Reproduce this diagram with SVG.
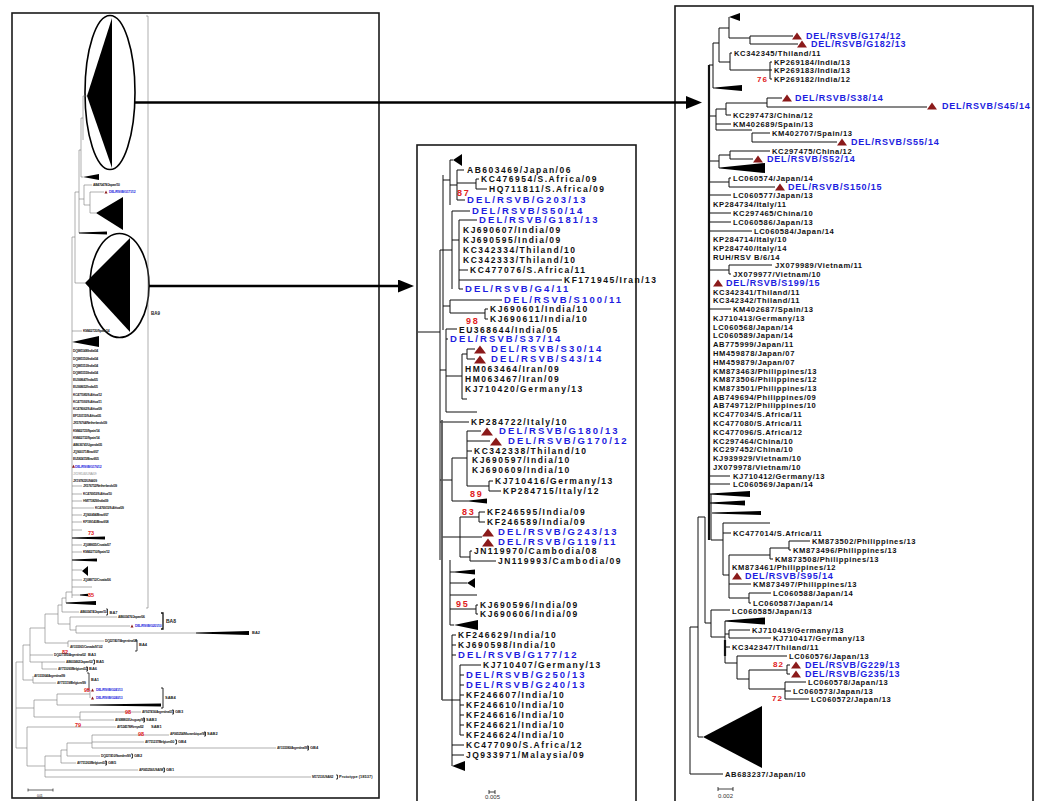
<svg xmlns="http://www.w3.org/2000/svg" width="1040" height="801" viewBox="0 0 1040 801">
<defs>
<style>
.pl{fill:none;stroke:#1a1a1a;stroke-width:1.6}
.lt{fill:none;stroke:#7a7a7a;stroke-width:0.6}
.bk{fill:none;stroke:#111;stroke-width:1}
.th{fill:none;stroke:#111;stroke-width:2.2}
.gy{fill:none;stroke:#555;stroke-width:1.8}
.ar{fill:none;stroke:#000;stroke-width:2.6}
.el{fill:none;stroke:#000;stroke-width:1.6}
.w{fill:#000}
.rt{fill:#8b1a1a}
text{font-family:"Liberation Sans",Arial,Helvetica,sans-serif}
.m{font-size:8.5px;font-weight:bold;letter-spacing:1.5px;fill:#111}
.mb{font-size:9.5px;font-weight:bold;letter-spacing:2.1px;fill:#1d1de0}
.mn{font-size:9px;font-weight:bold;letter-spacing:1.8px;fill:#e02020}
.r{font-size:7.6px;font-weight:bold;letter-spacing:0.6px;fill:#111}
.rb{font-size:9px;font-weight:bold;letter-spacing:0.8px;fill:#1d1de0}
.rn{font-size:8px;font-weight:bold;letter-spacing:1px;fill:#e02020}
.s{font-size:3.4px;font-weight:bold;letter-spacing:-0.3px;fill:#222}
.sb{font-size:3.4px;font-weight:bold;letter-spacing:-0.3px;fill:#2a2ae0}
.sg{font-size:3.4px;letter-spacing:-0.3px;fill:#999}
.sr{font-size:5.5px;font-weight:bold;fill:#e02020}
.cl{font-size:4px;font-weight:bold;fill:#222}
.sc{font-size:6px;fill:#333}
</style>
<polygon id="tm" points="0,0 6,-8 12,0" class="rt"/>
<polygon id="tr" points="0,0 5,-7 10,0" class="rt"/>
<polygon id="ts" points="0,0 1.5,-3 3,0" class="rt"/>
<marker id="ah" markerUnits="userSpaceOnUse" markerWidth="16" markerHeight="13" refX="2" refY="6.5" orient="auto" viewBox="0 0 16 13">
<path d="M0,0 L16,6.5 L0,13 z" fill="#000"/>
</marker>
</defs>
<rect width="1040" height="801" fill="#fff"/>

<g id="left-panel">
<rect x="12" y="13" width="367" height="785" class="pl"/>
<polygon points="87,96 112,18 112,168" class="w"/>
<ellipse cx="110" cy="92.5" rx="25" ry="77" class="el"/>
<polygon points="85,283 130,238 130,332" class="w"/>
<ellipse cx="119.5" cy="285.5" rx="29.5" ry="52" class="el"/>
<path class="lt" d="M146,16H148 M148,16V608 M146,608H148"/>
<text x="151" y="314.5" class="cl" style="font-size:4.5px">BA9</text>
<path class="lt" d="M83,96H87 M83,96V140 M81,118H83 M81,118V177 M81,177H83 M79,150H81 M79,150V233 M79,199H84 M84,185V205 M84,185H92 M84,205H90 M90,192V213 M90,192H104 M90,213H96 M75,192H79 M75,192V283 M75,283H85 M72,237H75 M72,237V598 M72,331H82 M72,486H82 M72,494H82 M72,501H82 M72,508H94 M72,515H82 M72,522H82 M72,530H82 M72,545H82 M72,552H82 M72,570H82 M72,580H82 M72,587H92 M72,595H80 M66,592H72 M66,592V603 M62,598H66 M62,598V612 M62,612H79 M58,605H62 M58,605V624 M58,624H70 M70,617V630 M70,617H117 M70,630H76 M76,626V633 M76,626H130 M76,633H196 M45,614H58 M45,614V643 M45,643H68 M68,641V647 M68,641H104 M30,628H45 M30,628V662 M30,655H53 M30,662H42 M42,662V669 M42,662H65 M42,669H57 M23,645H30 M23,645V680 M23,680H33 M33,676V683 M33,683H56 M16,662H23 M16,662V748 M16,708H34 M34,700V717 M34,700H57 M57,694V705 M57,694H90 M90,690V698 M57,705H90 M34,717H80 M80,712V720 M80,712H141 M80,720H114 M16,748H27 M27,727V766 M27,727H116 M27,766H45 M45,756V777 M45,756H61 M45,770H138 M45,777H311 M61,750V763 M61,750H67 M61,763H76 M67,743V756 M67,743H92 M67,756H100 M92,735V748 M92,735H169 M92,742H144 M92,748H276"/>
<polygon points="79,232.6 107,231.6 107,234.4 79,233.4" class="w"/>
<polygon points="83,177 99,174 99,180" class="w"/>
<polygon points="96,213 123,197 123,230" class="w"/>
<polygon points="72,342 99,336 99,347" class="w"/>
<polygon points="72,537.6 105,536.6 105,539.4 72,538.4" class="w"/>
<polygon points="72,559.6 97,558.6 97,561.4 72,560.4" class="w"/>
<polygon points="82,571 88,566 88,576" class="w"/>
<polygon points="80,594.6 88,593.8 88,596.2 80,595.4" class="w"/>
<polygon points="66,602.6 96,601 96,605 66,603.4" class="w"/>
<polygon points="196,632.5 249,631 249,635 196,633.5" class="w"/>
<polygon points="90,704.6 161,703.6 161,706.4 90,705.4" class="w"/>
<path class="lt" style="stroke:#222;stroke-width:0.7" d="M28,790H53 M28,788.5V791.5 M53,788.5V791.5"/>
<text x="37" y="797" class="s" style="font-weight:normal">0.01</text>
<text x="93" y="186.3" class="s">AB470478/Japan/10</text>
<use href="#ts" x="104.5" y="193.5"/>
<text x="109" y="193.3" class="sb">DEL/RSVB/G171/12</text>
<text x="83" y="332.3" class="s">KM402720/Spain/14</text>
<g>
<text x="73" y="352.3" class="s">DQ985148/India/04</text>
<text x="73" y="359.5" class="s">DQ985150/India/04</text>
<text x="73" y="366.7" class="s">DQ985153/India/04</text>
<text x="73" y="373.9" class="s">DQ985155/India/04</text>
<text x="73" y="381.1" class="s">EU368647/India/05</text>
<text x="73" y="388.3" class="s">EU368652/India/05</text>
<text x="73" y="395.5" class="s">KC477085/S.Africa/12</text>
<text x="73" y="402.7" class="s">KC477093/S.Africa/11</text>
<text x="73" y="409.9" class="s">KC478062/S.Africa/09</text>
<text x="73" y="417.1" class="s">EF120115/S.Africa/05</text>
<text x="73" y="424.3" class="s">JX576764/Netherlands/09</text>
<text x="73" y="431.5" class="s">KM402723/Spain/14</text>
<text x="73" y="438.7" class="s">KM402732/Spain/14</text>
<text x="73" y="445.9" class="s">AB636741/Uganda/05</text>
<text x="73" y="453.1" class="s">JQ900371/Brazil/07</text>
<text x="73" y="460.3" class="s">EU582415/Brazil/05</text>
<use href="#ts" x="72" y="467.8"/>
<text x="75" y="467.5" class="sb">DEL/RSVB/G176/12</text>
<text x="73" y="474.7" class="sg">JX198146/USA/09</text>
<text x="73" y="481.9" class="s">JX197822/USA/09</text>
<text x="83" y="487.3" class="s">JX576752/Netherlands/09</text>
<text x="83" y="495.3" class="s">KC476953/S.Africa/10</text>
<text x="83" y="502.3" class="s">HM773829/India/09</text>
<text x="95" y="509.3" class="s">KC476915/S.Africa/09</text>
<text x="83" y="516.3" class="s">JQ900494/Brazil/07</text>
<text x="83" y="523.3" class="s">KF199143/Brazil/08</text>
<text x="88" y="535" class="sr">73</text>
<text x="83" y="546.3" class="s">JQ088655/Croatia/07</text>
<text x="83" y="553.3" class="s">KM402710/Spain/12</text>
<text x="83" y="581.3" class="s">JQ088712/Croatia/06</text>
<text x="88" y="597" class="sr">85</text>
</g>
<g>
<text x="80" y="613.3" class="s">AB603474/Japan/10</text>
<path class="bk" style="stroke-width:0.8" d="M106,609H107.5V615H106"/>
<text x="109.5" y="613.5" class="cl">BA7</text>
<text x="118" y="618.3" class="s">AB603476/Japan/06</text>
<use href="#ts" x="130.5" y="627.5"/>
<text x="135" y="627.3" class="sb">DEL/RSVB/G201/10</text>
<path class="bk" style="stroke-width:1.3" d="M161,613H163V629H161"/>
<text x="166" y="622.8" class="cl" style="font-size:5px">BA8</text>
<text x="252" y="634.4" class="cl">BA2</text>
<text x="105" y="642.3" class="s">DQ227407/Argentina/04</text>
<text x="70" y="648.3" class="s">AY333361/Canada/97-02</text>
<path class="bk" style="stroke-width:0.8" d="M135,640H137V651H135"/>
<text x="139" y="646.4" class="cl">BA4</text>
<text x="62" y="654" class="sr">82</text>
<text x="54" y="656.3" class="s">DQ227395/Argentina/02</text>
<text x="88" y="656.4" class="cl">BA3</text>
<text x="66" y="663.3" class="s">AB603462/Japan/02</text>
<path class="bk" style="stroke-width:0.8" d="M93,660H94.5V664H93"/>
<text x="96" y="663.4" class="cl">BA5</text>
<text x="58" y="670.3" class="s">AY751093/Belgium/02</text>
<path class="bk" style="stroke-width:0.8" d="M86,667H87.5V671H86"/>
<text x="89" y="670.4" class="cl">BA6</text>
<text x="34" y="677.3" class="s">AY333364/Argentina/99</text>
<text x="57" y="684.3" class="s">AY751119/Belgium/99</text>
<path class="bk" style="stroke-width:0.8" d="M87,673H89V690H87"/>
<text x="91" y="681.4" class="cl">BA1</text>
<text x="84" y="692" class="sr">95</text>
<use href="#ts" x="91" y="691.5"/>
<text x="96" y="691.3" class="sb">DEL/RSVB/G241/13</text>
<use href="#ts" x="91" y="699.5"/>
<text x="96" y="699.3" class="sb">DEL/RSVB/G240/13</text>
<path class="bk" style="stroke-width:0.9" d="M161,688H163V708H161"/>
<text x="165" y="699.4" class="cl">SAB4</text>
<text x="125" y="714" class="sr">98</text>
<text x="142" y="713.3" class="s">AY927416/Argentina/01</text>
<path class="bk" style="stroke-width:0.8" d="M172,710H173.5V714H172"/>
<text x="175" y="713.4" class="cl">GB3</text>
<text x="115" y="721.3" class="s">AY488803/Uruguay/99</text>
<path class="bk" style="stroke-width:0.8" d="M143,718H144.5V722H143"/>
<text x="146" y="721.4" class="cl">SAB3</text>
<text x="75" y="727" class="sr">79</text>
<text x="117" y="728.3" class="s">AY524578/Kenya/02</text>
<text x="151" y="728.4" class="cl">SAB1</text>
<text x="138" y="736" class="sr">98</text>
<text x="170" y="735.3" class="s">AF065254/Mozambique/99</text>
<path class="bk" style="stroke-width:0.8" d="M204,732H205.5V736H204"/>
<text x="207" y="735.4" class="cl">SAB2</text>
<text x="145" y="743.3" class="s">AY751237/Belgium/00</text>
<path class="bk" style="stroke-width:0.8" d="M175,740H176.5V744H175"/>
<text x="178" y="743.4" class="cl">GB4</text>
<text x="277" y="749.3" class="s">AY333380/Argentina/99</text>
<path class="bk" style="stroke-width:0.8" d="M307,746H308.5V750H307"/>
<text x="310" y="749.4" class="cl">GB4</text>
<text x="101" y="757.3" class="s">DQ227410/Sweden/99</text>
<path class="bk" style="stroke-width:0.8" d="M131,754H132.5V758H131"/>
<text x="134" y="757.4" class="cl">GB2</text>
<text x="77" y="764.3" class="s">AY751263/Belgium/03</text>
<path class="bk" style="stroke-width:0.8" d="M105,761H106.5V765H105"/>
<text x="108" y="764.4" class="cl">GB5</text>
<text x="139" y="771.3" class="s">AF065256/USA/98</text>
<path class="bk" style="stroke-width:0.8" d="M163,768H164.5V772H163"/>
<text x="166" y="771.4" class="cl">GB1</text>
<text x="312" y="778.3" class="s">M17213/USA/62</text>
<path class="bk" style="stroke-width:0.8" d="M336,775H337.5V779H336"/>
<text x="339" y="778.4" class="cl">Prototype (18537)</text>
</g>
</g>

<g id="middle-panel">
<rect x="417" y="145" width="219" height="662" class="pl"/>
<path class="bk" d="M418,332H440 M440,250V560 M443,175V330 M440,250H443 M443,180H450 M450,160V205 M450,160H453 M450,185H457 M457,170V200 M457,170H464 M457,183H476 M476,179V189 M476,179H479 M476,189H487 M457,200H465 M443,250H452 M452,211V289 M452,211H470 M452,240H459 M459,220V289 M459,220H477 M459,270H468 M459,280H562 M459,289H463 M443,306H450 M450,300V313 M450,300H502 M450,313H485 M485,309V319 M485,309H488 M485,319H488 M440,370H446 M446,329V412 M446,329H457 M446,339H448 M446,376H462 M462,354V399 M462,354H467 M467,349V359 M467,349H475 M467,359H475 M462,399H467 M446,412H477 M440,422H469 M440,480H452 M452,458V501 M452,458H467 M467,431V486 M467,431H481 M467,441H490 M467,451H472 M467,486H489 M489,481V491 M489,481H493 M489,491H501 M452,501H469 M442,537H460 M460,517V557 M460,517H479 M479,512V522 M479,512H485 M479,522H485 M460,537H482 M460,557H470 M470,551V561 M470,551H472 M470,561H496 M450,560V625 M450,572H455 M450,583H467 M450,595H477 M450,609H476 M476,605V614 M476,605H478 M476,614H478 M450,625H454 M442,700H452 M452,635V766 M452,635H456 M452,645H456 M452,655H456 M452,700H460 M460,665V735 M460,665H481 M460,675H464 M460,685H464 M460,695H464 M460,705H464 M460,715H464 M460,725H464 M460,735H464 M452,745H464 M452,755H464"/>
<path class="gy" d="M442,420V700"/>
<polygon points="453,160 462,154 462,166" class="w"/>
<polygon points="469,500.5 487,498.5 487,503.5 469,501.5" class="w"/>
<polygon points="455,571.5 475,569.5 475,574.5 455,572.5" class="w"/>
<polygon points="467,583 475,578 475,588" class="w"/>
<polygon points="454,625 478,620 478,630" class="w"/>
<polygon points="452,766 465,761 465,771" class="w"/>
<path class="bk" style="stroke-width:0.8" d="M489,792H495 M489,790V794 M495,790V794"/>
<text x="485" y="799" class="sc">0.005</text>
<text x="467" y="173" class="m">AB603469/Japan/06</text>
<text x="481" y="182" class="m">KC476954/S.Africa/09</text>
<text x="489" y="192" class="m">HQ711811/S.Africa/09</text>
<text x="463" y="233" class="m">KJ690607/India/09</text>
<text x="463" y="243" class="m">KJ690595/India/09</text>
<text x="463" y="253" class="m">KC342334/Thiland/10</text>
<text x="463" y="263" class="m">KC342333/Thiland/10</text>
<text x="470" y="273" class="m">KC477076/S.Africa/11</text>
<text x="564" y="283" class="m">KF171945/Iran/13</text>
<text x="490" y="312" class="m">KJ690601/India/10</text>
<text x="490" y="322" class="m">KJ690611/India/10</text>
<text x="459" y="332.5" class="m">EU368644/India/05</text>
<text x="465" y="372" class="m">HM063464/Iran/09</text>
<text x="465" y="382" class="m">HM063467/Iran/09</text>
<text x="465" y="392" class="m">KJ710420/Germany/13</text>
<text x="471" y="425" class="m">KP284722/Italy/10</text>
<text x="474" y="454" class="m">KC342338/Thiland/10</text>
<text x="472" y="463" class="m">KJ690597/India/10</text>
<text x="472" y="473" class="m">KJ690609/India/10</text>
<text x="495" y="484" class="m">KJ710416/Germany/13</text>
<text x="503" y="494" class="m">KP284715/Italy/12</text>
<text x="487" y="515" class="m">KF246595/India/09</text>
<text x="487" y="525" class="m">KF246589/India/09</text>
<text x="474" y="554" class="m">JN119970/Cambodia/08</text>
<text x="498" y="564" class="m">JN119993/Cambodia/09</text>
<text x="480" y="608" class="m">KJ690596/India/09</text>
<text x="480" y="617" class="m">KJ690606/India/09</text>
<text x="458" y="638" class="m">KF246629/India/10</text>
<text x="458" y="648" class="m">KJ690598/India/10</text>
<text x="483" y="668" class="m">KJ710407/Germany/13</text>
<text x="466" y="698" class="m">KF246607/India/10</text>
<text x="466" y="708" class="m">KF246610/India/10</text>
<text x="466" y="718" class="m">KF246616/India/10</text>
<text x="466" y="728" class="m">KF246621/India/10</text>
<text x="466" y="738" class="m">KF246624/India/10</text>
<text x="466" y="748" class="m">KC477090/S.Africa/12</text>
<text x="466" y="758" class="m">JQ933971/Malaysia/09</text>
<text x="467" y="203.4" class="mb">DEL/RSVB/G203/13</text>
<text x="472" y="214.4" class="mb">DEL/RSVB/S50/14</text>
<text x="479" y="223.4" class="mb">DEL/RSVB/G181/13</text>
<text x="465" y="292.4" class="mb">DEL/RSVB/G4/11</text>
<text x="504" y="303.4" class="mb">DEL/RSVB/S100/11</text>
<text x="450" y="342.4" class="mb">DEL/RSVB/S37/14</text>
<use href="#tm" x="474" y="353.5"/>
<text x="491" y="352.4" class="mb">DEL/RSVB/S30/14</text>
<use href="#tm" x="474" y="363.5"/>
<text x="491" y="362.4" class="mb">DEL/RSVB/S43/14</text>
<use href="#tm" x="481" y="435.5"/>
<text x="499" y="434.4" class="mb">DEL/RSVB/G180/13</text>
<use href="#tm" x="490" y="445.5"/>
<text x="508" y="444.4" class="mb">DEL/RSVB/G170/12</text>
<use href="#tm" x="482" y="536.5"/>
<text x="498" y="535.4" class="mb">DEL/RSVB/G243/13</text>
<use href="#tm" x="482" y="546.5"/>
<text x="498" y="545.4" class="mb">DEL/RSVB/G119/11</text>
<text x="458" y="658.4" class="mb">DEL/RSVB/G177/12</text>
<text x="466" y="678.4" class="mb">DEL/RSVB/G250/13</text>
<text x="466" y="688.4" class="mb">DEL/RSVB/G240/13</text>
<text x="457" y="196" class="mn">87</text>
<text x="466" y="323.5" class="mn">98</text>
<text x="470" y="497" class="mn">89</text>
<text x="462" y="515" class="mn">83</text>
<text x="456" y="607" class="mn">95</text>
</g>

<g id="right-panel">
<rect x="675" y="6" width="358" height="801" class="pl"/>
<path class="bk" d="M690,627V774 M690,774H723 M690,627H698 M698,517V737 M698,737H703 M698,517H705 M705,517V623 M705,623H711 M711,610V637 M711,610H730 M711,637H725 M725,621V663 M725,634H729 M729,630V638 M729,630H750 M729,638H771 M725,647H730 M725,663H737 M737,656V679 M737,656H787 M737,679H749 M749,670V689 M749,670H787 M787,665V674 M787,665H790 M787,674H790 M749,689H785 M785,682V699 M785,682H806 M785,691H791 M785,699H809 M709,65H713 M713,43V88 M713,43H719 M719,28V62 M719,28H729 M729,17V38 M729,38H750 M750,36V44 M750,36H793 M750,44H798 M719,62H730 M730,53V70 M730,53H732 M730,70H770 M770,62V79 M770,62H772 M770,70H772 M770,79H772 M713,88H715 M709,116H716 M716,109V130 M716,109H726 M726,103V115 M726,103H767 M767,98V107 M767,98H782 M767,107H927 M726,115H731 M716,124H731 M716,130H752 M752,133V142 M752,133H770 M752,142H837 M709,161H719 M719,155V168 M719,155H730 M730,151V159 M730,151H770 M730,159H753 M719,168H720 M709,182H729 M729,178V187 M729,178H731 M729,187H775 M709,195H731 M709,213H731 M709,222H731 M709,231H752 M709,270H729 M729,265V274 M729,265H772 M729,274H731 M709,309H731 M709,476H730 M709,484H730 M711,494V540 M711,540H723 M723,523V575 M723,523H770 M723,533H731 M723,575H729 M729,555V598 M729,555H770 M770,548V559 M770,548H789 M789,541V550 M789,541H810 M789,550H791 M770,559H773 M729,584H751 M729,598H749 M749,593V603 M749,593H771 M749,603H751"/>
<path class="th" d="M709,65V540 M725,640V656"/>
<polygon points="729,17 740,13 740,21" class="w"/>
<polygon points="715,87.5 742,85 742,91 715,88.5" class="w"/>
<polygon points="720,167.5 765,163 765,173 720,168.5" class="w"/>
<polygon points="710,493.5 750,491 750,497 710,494.5" class="w"/>
<polygon points="710,502.5 745,500.5 745,505.5 710,503.5" class="w"/>
<polygon points="712,512.5 761,511 761,515 712,513.5" class="w"/>
<polygon points="725,620.5 765,617.5 765,624.5 725,621.5" class="w"/>
<polygon points="703,737 762,706 762,768" class="w"/>
<path class="bk" style="stroke-width:0.8" d="M718,789H733 M718,787V791 M733,787V791"/>
<text x="718" y="798" class="sc">0.002</text>
<text x="734" y="55.7" class="r">KC342345/Thiland/11</text>
<text x="774" y="64.7" class="r">KP269184/India/13</text>
<text x="774" y="72.7" class="r">KP269183/India/13</text>
<text x="774" y="81.7" class="r">KP269182/India/12</text>
<text x="733" y="117.7" class="r">KC297473/China/12</text>
<text x="733" y="126.7" class="r">KM402689/Spain/13</text>
<text x="772" y="135.7" class="r">KM402707/Spain/13</text>
<text x="772" y="153.7" class="r">KC297475/China/12</text>
<text x="733" y="180.7" class="r">LC060574/Japan/14</text>
<text x="733" y="197.7" class="r">LC060577/Japan/13</text>
<text x="713" y="206.7" class="r">KP284734/Italy/11</text>
<text x="733" y="215.7" class="r">KC297465/China/10</text>
<text x="733" y="224.7" class="r">LC060586/Japan/13</text>
<text x="754" y="233.7" class="r">LC060584/Japan/14</text>
<text x="713" y="241.7" class="r">KP284714/Italy/10</text>
<text x="713" y="250.7" class="r">KP284740/Italy/14</text>
<text x="713" y="259.7" class="r">RUH/RSV B/6/14</text>
<text x="775" y="267.7" class="r">JX079989/Vietnam/11</text>
<text x="733" y="276.7" class="r">JX079977/Vietnam/10</text>
<text x="713" y="294.7" class="r">KC342341/Thiland/11</text>
<text x="713" y="302.7" class="r">KC342342/Thiland/11</text>
<text x="733" y="311.7" class="r">KM402687/Spain/13</text>
<text x="713" y="320.7" class="r">KJ710413/Germany/13</text>
<text x="713" y="329.7" class="r">LC060568/Japan/14</text>
<text x="713" y="337.7" class="r">LC060589/Japan/14</text>
<text x="713" y="346.7" class="r">AB775999/Japan/11</text>
<text x="713" y="355.7" class="r">HM459878/Japan/07</text>
<text x="713" y="364.7" class="r">HM459879/Japan/07</text>
<text x="713" y="373.7" class="r">KM873463/Philippines/13</text>
<text x="713" y="381.7" class="r">KM873506/Philippines/12</text>
<text x="713" y="390.7" class="r">KM873501/Philippines/13</text>
<text x="713" y="399.7" class="r">AB749694/Philippines/09</text>
<text x="713" y="407.7" class="r">AB749712/Philippines/10</text>
<text x="713" y="416.7" class="r">KC477034/S.Africa/11</text>
<text x="713" y="425.7" class="r">KC477080/S.Africa/11</text>
<text x="713" y="434.7" class="r">KC477096/S.Africa/12</text>
<text x="713" y="443.7" class="r">KC297464/China/10</text>
<text x="713" y="451.7" class="r">KC297452/China/10</text>
<text x="713" y="460.7" class="r">KJ939929/Vietnam/10</text>
<text x="713" y="469.7" class="r">JX079978/Vietnam/10</text>
<text x="733" y="478.7" class="r">KJ710412/Germany/13</text>
<text x="733" y="486.7" class="r">LC060569/Japan/14</text>
<text x="733" y="535.7" class="r">KC477014/S.Africa/11</text>
<text x="812" y="543.7" class="r">KM873502/Philippines/13</text>
<text x="793" y="552.7" class="r">KM873496/Philippines/13</text>
<text x="775" y="561.7" class="r">KM873508/Philippines/13</text>
<text x="732" y="569.7" class="r">KM873461/Philippines/12</text>
<text x="753" y="586.7" class="r">KM873497/Philippines/13</text>
<text x="773" y="595.7" class="r">LC060588/Japan/14</text>
<text x="753" y="605.7" class="r">LC060587/Japan/14</text>
<text x="732" y="613.7" class="r">LC060585/Japan/13</text>
<text x="752" y="632.7" class="r">KJ710419/Germany/13</text>
<text x="773" y="640.7" class="r">KJ710417/Germany/13</text>
<text x="732" y="649.7" class="r">KC342347/Thiland/11</text>
<text x="789" y="658.7" class="r">LC060576/Japan/13</text>
<text x="808" y="684.7" class="r">LC060578/Japan/13</text>
<text x="793" y="693.7" class="r">LC060573/Japan/13</text>
<text x="811" y="701.7" class="r">LC060572/Japan/13</text>
<text x="725" y="776.7" class="r">AB683237/Japan/10</text>
<use href="#tr" x="792" y="39.5"/>
<text x="806" y="39.2" class="rb">DEL/RSVB/G174/12</text>
<use href="#tr" x="797" y="47.5"/>
<text x="811" y="47.2" class="rb">DEL/RSVB/G182/13</text>
<use href="#tr" x="782" y="101.5"/>
<text x="795" y="101.2" class="rb">DEL/RSVB/S38/14</text>
<use href="#tr" x="927" y="109.5"/>
<text x="942" y="109.2" class="rb">DEL/RSVB/S45/14</text>
<use href="#tr" x="837" y="145.5"/>
<text x="851" y="145.2" class="rb">DEL/RSVB/S55/14</text>
<use href="#tr" x="753" y="162.5"/>
<text x="767" y="162.2" class="rb">DEL/RSVB/S52/14</text>
<use href="#tr" x="775" y="190.5"/>
<text x="788" y="190.2" class="rb">DEL/RSVB/S150/15</text>
<use href="#tr" x="713" y="286.5"/>
<text x="726" y="286.2" class="rb">DEL/RSVB/S199/15</text>
<use href="#tr" x="732" y="579.5"/>
<text x="745" y="579.2" class="rb">DEL/RSVB/S95/14</text>
<use href="#tr" x="791" y="668.5"/>
<text x="805" y="668.2" class="rb">DEL/RSVB/G229/13</text>
<use href="#tr" x="791" y="677.5"/>
<text x="805" y="677.2" class="rb">DEL/RSVB/G235/13</text>
<text x="757" y="82" class="rn">76</text>
<text x="773" y="667" class="rn">82</text>
<text x="772" y="701" class="rn">72</text>
</g>

<g id="connectors">
<line x1="135" y1="102.5" x2="688" y2="102.5" class="ar" marker-end="url(#ah)"/>
<line x1="149" y1="286" x2="400" y2="286" class="ar" marker-end="url(#ah)"/>
</g>
</svg>
